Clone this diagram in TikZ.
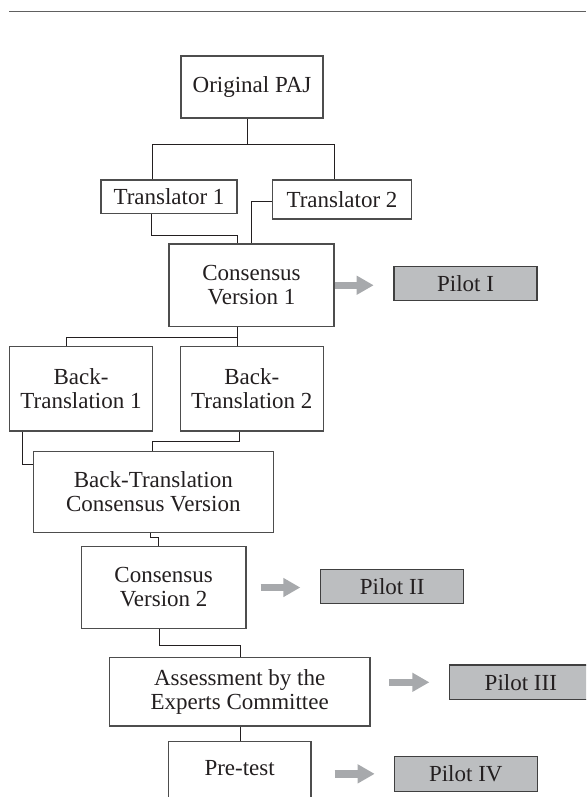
\documentclass[tikz,border=0pt]{standalone}
\usepackage{fontspec}
\setmainfont{Liberation Serif}
\usetikzlibrary{arrows.meta,calc}
\definecolor{txt}{HTML}{231F20}
\definecolor{boxline}{HTML}{4D4D4D}
\definecolor{pilotfill}{HTML}{BCBEC0}
\definecolor{arrowgray}{HTML}{A7A9AC}
\definecolor{rulegray}{HTML}{606060}
\begin{document}
\begin{tikzpicture}[x=1pt,y=-1pt,
  box/.style={draw=boxline, line width=1.2pt, fill=white, inner sep=0pt, align=center, text=txt, font=\fontsize{23}{24}\selectfont},
  pilot/.style={box, fill=pilotfill, draw=black!75, minimum width=143pt, minimum height=34.5pt},
  link/.style={draw=txt, line width=1pt},
  garrow/.style={draw=arrowgray, line width=7.5pt, -{Triangle[length=17pt,width=18pt]}}]
\useasboundingbox (0,0) rectangle (586,797);
\clip (0,0) rectangle (586,797);
\coordinate (r0) at (9.4,11.5);
\coordinate (r1) at (586,11.5);
\draw[rulegray, line width=1.5pt] (r0) -- (r1);

\node[box, minimum width=142pt, minimum height=62pt] (orig) at (252,87) {Original PAJ};
\node[box, minimum width=136pt, minimum height=33.5pt] (t1) at (169,196.75) {Translator 1};
\node[box, minimum width=139pt, minimum height=39pt] (t2) at (342,199.5) {Translator 2};
\node[box, minimum width=165pt, minimum height=82.5pt] (cv1) at (251.5,285.25) {Consensus\\Version 1};
\node[pilot] (p1) at (465.5,283.5) {Pilot I};
\node[box, minimum width=143.4pt, minimum height=84.3pt] (bt1) at (81,388.85) {Back-\\Translation 1};
\node[box, minimum width=143pt, minimum height=84.3pt] (bt2) at (251.8,388.85) {Back-\\Translation 2};
\node[box, minimum width=240pt, minimum height=81.2pt] (btc) at (153.3,492.1) {Back-Translation\\Consensus Version};
\node[box, minimum width=164.7pt, minimum height=81.6pt] (cv2) at (163.65,587.5) {Consensus\\Version 2};
\node[pilot] (p2) at (392.15,586.5) {Pilot II};
\node[box, minimum width=260.7pt, minimum height=68.7pt] (ass) at (239.65,691.65) {Assessment by the\\Experts Committee};
\node[pilot] (p3) at (520.8,682.3) {Pilot III};
\node[box, minimum width=142.7pt, text height=15.5pt, text depth=30pt, inner ysep=17.8pt, anchor=base] (pre) at (239.65,775) {Pre-test};
\node[pilot] (p4) at (465.8,773.85) {Pilot IV};

% connectors
\coordinate (b1) at (247.7,144.5);
\draw[link] ([xshift=-4.3pt]orig.south) -- (b1);
\draw[link] ([xshift=-17pt]t1.north) |- (b1) -| ([xshift=-7.7pt]t2.north);
\coordinate (b2) at (151,235.3);
\draw[link] ([xshift=-18pt]t1.south) -- (b2) -| ([xshift=-14pt]cv1.north);
\draw[link] ([yshift=-1.5pt]t2.west) -| ([xshift=0.2pt]cv1.north);
\coordinate (v1) at (237.3,337);
\draw[link] (cv1.south -| v1) -- (bt2.north -| v1);
\draw[link] (v1) -| ([xshift=-14.3pt]bt1.north);
\draw[link] ([xshift=-58.7pt]bt1.south) |- ([yshift=27.8pt]btc.west);
\coordinate (v2) at (239,441);
\draw[link] (bt2.south -| v2) -- (v2) -| ([xshift=-1pt]btc.north);
\coordinate (v3) at (150.7,537.8);
\draw[link] (btc.south -| v3) -- (v3) -| ([xshift=-5.65pt]cv2.north);
\coordinate (v4) at (159.3,645.3);
\draw[link] (cv2.south -| v4) -- (v4) -| ([xshift=0.35pt]ass.north);
\draw[link] ([xshift=0.35pt]ass.south) -- ([xshift=0.35pt]pre.north);

% gray arrows
\draw[garrow, shorten >=19.7pt] (cv1.east) -- (cv1.east -| p1.west);
\draw[garrow, shorten <=14pt, shorten >=19.7pt] (cv2.east) -- (cv2.east -| p2.west);
\draw[garrow, shorten <=18.7pt, shorten >=19.3pt] (p3.west -| ass.east) -- (p3.west);
\draw[garrow, shorten <=23pt, shorten >=19pt] (p4.west -| pre.east) -- (p4.west);
\end{tikzpicture}
\end{document}
